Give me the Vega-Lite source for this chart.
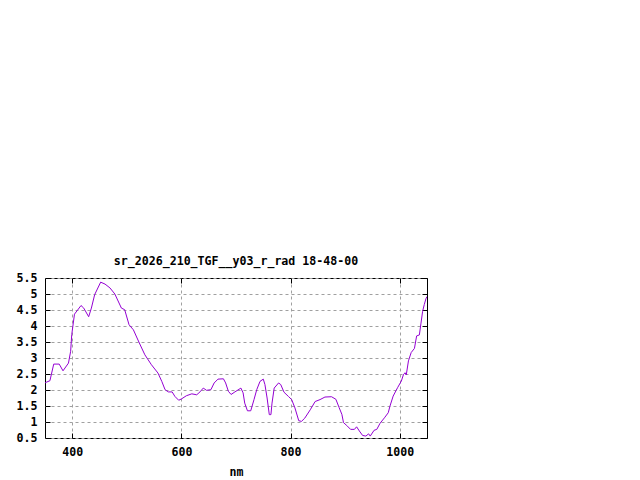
{
  "$schema": "https://vega.github.io/schema/vega-lite/v6.json",
  "width": 382,
  "height": 160,
  "autosize": {"type": "none"},
  "padding": {"left": 45, "top": 278, "right": 213, "bottom": 42},
  "background": "white",
  "title": {
    "text": "sr_2026_210_TGF__y03_r_rad 18-48-00",
    "font": "DejaVu Sans Mono",
    "fontSize": 11.6,
    "fontWeight": "bold",
    "color": "black",
    "anchor": "middle",
    "offset": 4
  },
  "config": {
    "view": {"stroke": "black", "strokeWidth": 1},
    "axis": {
      "labelFont": "DejaVu Sans Mono",
      "labelFontSize": 11.6,
      "labelFontWeight": "bold",
      "labelColor": "black",
      "titleFont": "DejaVu Sans Mono",
      "titleFontSize": 11.6,
      "titleFontWeight": "bold",
      "titleColor": "black",
      "domain": false,
      "tickColor": "black",
      "tickSize": -5,
      "gridColor": "#a0a0a0",
      "gridDash": [3, 3],
      "gridWidth": 1,
      "gridOpacity": 1
    }
  },
  "data": {
    "values": [
      {"nm": 350, "rad": 2.22},
      {"nm": 352, "rad": 2.24},
      {"nm": 359, "rad": 2.29},
      {"nm": 366, "rad": 2.81},
      {"nm": 376, "rad": 2.81},
      {"nm": 383, "rad": 2.6},
      {"nm": 393, "rad": 2.84},
      {"nm": 397, "rad": 3.21},
      {"nm": 399, "rad": 3.73},
      {"nm": 404, "rad": 4.37},
      {"nm": 416, "rad": 4.64},
      {"nm": 421, "rad": 4.56},
      {"nm": 430, "rad": 4.29},
      {"nm": 435, "rad": 4.56},
      {"nm": 441, "rad": 4.98},
      {"nm": 452, "rad": 5.37},
      {"nm": 460, "rad": 5.31},
      {"nm": 469, "rad": 5.19},
      {"nm": 478, "rad": 5.0},
      {"nm": 490, "rad": 4.56},
      {"nm": 496, "rad": 4.51},
      {"nm": 504, "rad": 4.04},
      {"nm": 512, "rad": 3.88},
      {"nm": 522, "rad": 3.5},
      {"nm": 533, "rad": 3.1},
      {"nm": 545, "rad": 2.79},
      {"nm": 557, "rad": 2.53},
      {"nm": 564, "rad": 2.27},
      {"nm": 570, "rad": 2.01},
      {"nm": 576, "rad": 1.94},
      {"nm": 583, "rad": 1.94},
      {"nm": 588, "rad": 1.8},
      {"nm": 595, "rad": 1.68},
      {"nm": 600, "rad": 1.72},
      {"nm": 609, "rad": 1.82},
      {"nm": 619, "rad": 1.88},
      {"nm": 628, "rad": 1.85},
      {"nm": 634, "rad": 1.94},
      {"nm": 640, "rad": 2.06},
      {"nm": 646, "rad": 1.99},
      {"nm": 654, "rad": 2.01},
      {"nm": 660, "rad": 2.22},
      {"nm": 667, "rad": 2.34},
      {"nm": 677, "rad": 2.35},
      {"nm": 681, "rad": 2.22},
      {"nm": 686, "rad": 1.96},
      {"nm": 691, "rad": 1.86},
      {"nm": 698, "rad": 1.94},
      {"nm": 709, "rad": 2.06},
      {"nm": 713, "rad": 1.91},
      {"nm": 716, "rad": 1.59},
      {"nm": 721, "rad": 1.35},
      {"nm": 727, "rad": 1.35},
      {"nm": 733, "rad": 1.7},
      {"nm": 738, "rad": 2.01},
      {"nm": 744, "rad": 2.27},
      {"nm": 750, "rad": 2.34},
      {"nm": 753, "rad": 2.17},
      {"nm": 757, "rad": 1.75},
      {"nm": 761, "rad": 1.23},
      {"nm": 764, "rad": 1.23},
      {"nm": 766, "rad": 1.59},
      {"nm": 770, "rad": 2.06},
      {"nm": 778, "rad": 2.22},
      {"nm": 782, "rad": 2.17},
      {"nm": 788, "rad": 1.93},
      {"nm": 796, "rad": 1.8},
      {"nm": 802, "rad": 1.7},
      {"nm": 808, "rad": 1.44},
      {"nm": 815, "rad": 1.04},
      {"nm": 820, "rad": 1.02},
      {"nm": 826, "rad": 1.12},
      {"nm": 836, "rad": 1.38},
      {"nm": 845, "rad": 1.64},
      {"nm": 854, "rad": 1.7},
      {"nm": 863, "rad": 1.78},
      {"nm": 875, "rad": 1.79},
      {"nm": 883, "rad": 1.71},
      {"nm": 889, "rad": 1.45},
      {"nm": 894, "rad": 1.24},
      {"nm": 897, "rad": 0.98},
      {"nm": 903, "rad": 0.89},
      {"nm": 910, "rad": 0.77},
      {"nm": 917, "rad": 0.77},
      {"nm": 921, "rad": 0.85},
      {"nm": 926, "rad": 0.72},
      {"nm": 932, "rad": 0.58},
      {"nm": 938, "rad": 0.56},
      {"nm": 943, "rad": 0.63},
      {"nm": 946, "rad": 0.56},
      {"nm": 953, "rad": 0.74},
      {"nm": 958, "rad": 0.77},
      {"nm": 964, "rad": 0.96},
      {"nm": 972, "rad": 1.13},
      {"nm": 979, "rad": 1.29},
      {"nm": 982, "rad": 1.49},
      {"nm": 988, "rad": 1.81},
      {"nm": 996, "rad": 2.07},
      {"nm": 1003, "rad": 2.28},
      {"nm": 1007, "rad": 2.49},
      {"nm": 1010, "rad": 2.54},
      {"nm": 1012, "rad": 2.47},
      {"nm": 1016, "rad": 2.91},
      {"nm": 1021, "rad": 3.17},
      {"nm": 1027, "rad": 3.3},
      {"nm": 1031, "rad": 3.69},
      {"nm": 1036, "rad": 3.72},
      {"nm": 1039, "rad": 4.09},
      {"nm": 1042, "rad": 4.46},
      {"nm": 1045, "rad": 4.67},
      {"nm": 1048, "rad": 4.85},
      {"nm": 1050, "rad": 4.92}
    ]
  },
  "layer": [
    {
      "mark": {"type": "line", "color": "#9400D3", "strokeWidth": 1, "clip": true},
      "encoding": {
        "x": {
          "field": "nm",
          "type": "quantitative",
          "scale": {"domain": [350, 1050], "nice": false, "zero": false},
          "axis": {
            "orient": "bottom",
            "title": "nm",
            "values": [400, 600, 800, 1000],
            "format": "d",
            "labelPadding": 13,
            "titlePadding": 9
          }
        },
        "y": {
          "field": "rad",
          "type": "quantitative",
          "scale": {"domain": [0.5, 5.5], "nice": false, "zero": false},
          "axis": {
            "orient": "left",
            "title": null,
            "values": [0.5, 1, 1.5, 2, 2.5, 3, 3.5, 4, 4.5, 5, 5.5],
            "format": ".1~f",
            "labelPadding": 13
          }
        }
      }
    },
    {
      "mark": {"type": "line", "strokeOpacity": 0},
      "encoding": {
        "x": {
          "field": "nm",
          "type": "quantitative",
          "scale": {"domain": [350, 1050], "nice": false, "zero": false},
          "axis": {
            "orient": "top",
            "title": null,
            "values": [400, 600, 800, 1000],
            "labels": false,
            "grid": false
          }
        },
        "y": {
          "field": "rad",
          "type": "quantitative",
          "scale": {"domain": [0.5, 5.5], "nice": false, "zero": false},
          "axis": {
            "orient": "right",
            "title": null,
            "values": [0.5, 1, 1.5, 2, 2.5, 3, 3.5, 4, 4.5, 5, 5.5],
            "labels": false,
            "grid": false
          }
        }
      }
    }
  ],
  "resolve": {"axis": {"x": "independent", "y": "independent"}}
}
